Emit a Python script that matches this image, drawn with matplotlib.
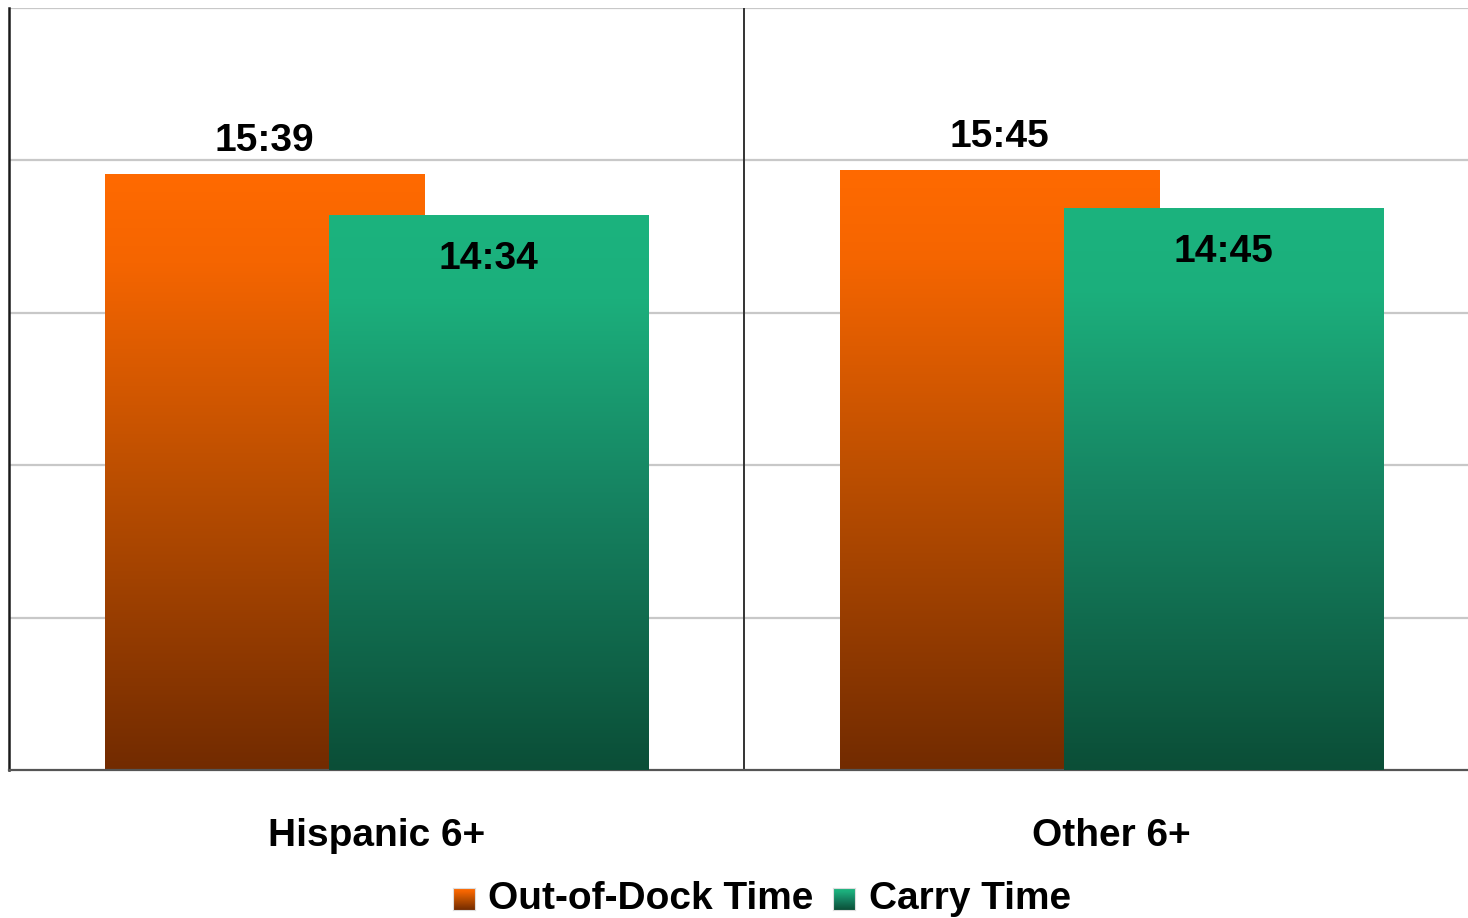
import numpy as np
import matplotlib
matplotlib.use("Agg")
import matplotlib.pyplot as plt
from matplotlib.colors import LinearSegmentedColormap
from matplotlib.patches import Rectangle

plt.rcParams['font.family'] = ['Liberation Sans', 'DejaVu Sans']

categories = ["Hispanic 6+", "Other 6+"]
series_names = ["Out-of-Dock Time", "Carry Time"]
out_of_dock = ["15:39", "15:45"]
carry_time = ["14:34", "14:45"]


def to_minutes(s):
    m, sec = s.split(":")
    return int(m) + int(sec) / 60.0


series_labels = [out_of_dock, carry_time]
series_values = [[to_minutes(v) for v in out_of_dock],
                 [to_minutes(v) for v in carry_time]]

cmaps = [
    LinearSegmentedColormap.from_list(
        "orange", [(0.0, "#722b00"), (0.5, "#bd4f00"), (0.85, "#f56500"), (1.0, "#ff6a00")]),
    LinearSegmentedColormap.from_list(
        "green", [(0.0, "#0b4e37"), (0.5, "#168462"), (0.85, "#1caf7c"), (1.0, "#1bb37e")]),
]

W, H = 1468, 918
fig = plt.figure(figsize=(W / 100, H / 100), dpi=100)
ax_left, ax_right, ax_top, ax_bottom = 9, 1479, 8, 770
ax = fig.add_axes([ax_left / W, (H - ax_bottom) / H,
                   (ax_right - ax_left) / W, (ax_bottom - ax_top) / H])

ax.set_xlim(-0.5, len(categories) - 0.5)
ax.set_ylim(0, 20)
ax.set_yticks([4, 8, 12, 16, 20])
ax.yaxis.grid(True, color="#c8c8c8", linewidth=1.6, zorder=0)
ax.set_axisbelow(True)
ax.tick_params(left=False, bottom=False, labelleft=False, labelbottom=False)
for side in ["top", "right"]:
    ax.spines[side].set_visible(False)
ax.spines["left"].set_color("#1a1a1a")
ax.spines["left"].set_linewidth(1.8)
ax.spines["bottom"].set_color("#555555")
ax.spines["bottom"].set_linewidth(1.6)

# category separators
for k in range(1, len(categories)):
    ax.axvline(k - 0.5, color="#333333", linewidth=1.4, zorder=1)

bar_width = 0.4346
offsets = [-0.152, 0.152]
grad = np.linspace(0, 1, 256).reshape(-1, 1)

for s, (vals, labs) in enumerate(zip(series_values, series_labels)):
    for i, (v, lab) in enumerate(zip(vals, labs)):
        x0 = i + offsets[s] - bar_width / 2
        x1 = x0 + bar_width
        rect = Rectangle((x0, 0), bar_width, v, facecolor="none",
                         edgecolor="none", zorder=3 + s)
        ax.add_patch(rect)
        im = ax.imshow(grad, cmap=cmaps[s], origin="lower", aspect="auto",
                       extent=(x0, x1, 0, v), zorder=2 + s, interpolation="bilinear")
        im.set_clip_path(rect)
        if s == 0:
            ax.text(i + offsets[s], v + 0.86, lab, ha="center", va="center",
                    fontsize=28, fontweight="bold", color="black", zorder=6)
        else:
            ax.text(i + offsets[s], v - 1.16, lab, ha="center", va="center",
                    fontsize=28, fontweight="bold", color="black", zorder=6)

ax.set_xlim(-0.5, len(categories) - 0.5)
ax.set_ylim(0, 20)

# category labels below the axis
for i, c in enumerate(categories):
    ax.text(i, -1.72, c, ha="center", va="center", fontsize=28,
            fontweight="bold", color="black", clip_on=False)

# legend with gradient swatches
swatch_w, swatch_h = 22, 22
legend_y = 899
legend_items = [(453, 488), (833, 869)]
for s, (sx, tx) in enumerate(legend_items):
    sax = fig.add_axes([sx / W, (H - legend_y - swatch_h / 2) / H, swatch_w / W, swatch_h / H])
    sax.imshow(grad, cmap=cmaps[s], origin="lower", aspect="auto", interpolation="bilinear")
    sax.set_xticks([])
    sax.set_yticks([])
    for sp in sax.spines.values():
        sp.set_color("#dddddd")
        sp.set_linewidth(0.8)
    fig.text(tx / W, (H - legend_y) / H, series_names[s], ha="left", va="center",
             fontsize=28, fontweight="bold", color="black")

fig.savefig("out.png", dpi=100)
